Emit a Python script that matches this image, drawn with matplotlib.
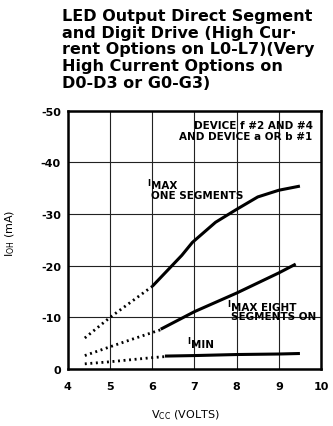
from matplotlib import pyplot as plt

plt.rcParams['font.family'] = ['DejaVu Sans Condensed', 'Liberation Sans Narrow',
                               'DejaVu Sans']
plt.rcParams['font.weight'] = 'bold'

# curve data (Vcc in volts, Ioh in mA)
one_dot_v = [4.4, 5.0, 5.5, 6.0]
one_dot_i = [-6.0, -10.0, -13.0, -16.0]
one_v = [6.0, 6.35, 6.7, 6.95, 7.5, 8.0, 8.5, 9.0, 9.5]
one_i = [-16.0, -19.0, -22.0, -24.5, -28.4, -30.9, -33.3, -34.6, -35.4]

eight_dot_v = [4.4, 5.0, 5.5, 6.2]
eight_dot_i = [-2.6, -4.3, -5.7, -7.6]
eight_v = [6.2, 7.0, 8.0, 9.0, 9.4]
eight_i = [-7.7, -11.1, -14.7, -18.6, -20.3]

min_dot_v = [4.4, 5.0, 6.0, 6.3]
min_dot_i = [-1.0, -1.4, -2.2, -2.4]
min_v = [6.3, 7.0, 8.0, 9.0, 9.5]
min_i = [-2.5, -2.6, -2.8, -2.9, -3.0]

xticks = [4, 5, 6, 7, 8, 9, 10]
yticks = [0, -10, -20, -30, -40, -50]

fig = plt.figure(figsize=(3.33, 4.27), dpi=100)
ax = fig.add_axes([0.204, 0.1335, 0.76, 0.605])

for dv, di, v, i in [(one_dot_v, one_dot_i, one_v, one_i),
                     (eight_dot_v, eight_dot_i, eight_v, eight_i),
                     (min_dot_v, min_dot_i, min_v, min_i)]:
    ax.plot(dv, di, color='black', lw=2, linestyle=(0, (0.7, 1.3)))
    ax.plot(v, i, color='black', lw=2.2, solid_capstyle='butt')

ax.set_xlim(4, 10)
ax.set_ylim(0, -50)
ax.set_xticks(xticks)
ax.set_yticks(yticks)
ax.set_yticklabels(['0', '-10', '-20', '-30', '-40', '-50'])
ax.tick_params(length=0, labelsize=8)
ax.tick_params(axis='y', pad=5)
ax.tick_params(axis='x', pad=9)
ax.grid(True, color='#222222', lw=0.8)
for s in ax.spines.values():
    s.set_linewidth(1.8)

ax.text(9.8, -46.2, 'DEVICE f #2 AND #4\nAND DEVICE a OR b #1',
        ha='right', va='center', fontsize=7.5, linespacing=1.1)

ax.text(5.87, -35.3, 'I', fontsize=6, va='bottom')
ax.text(5.97, -36.5, 'MAX\nONE SEGMENTS', fontsize=7.5, va='top',
        linespacing=0.9)
ax.text(7.77, -11.8, 'I', fontsize=6, va='bottom')
ax.text(7.87, -13.0, 'MAX EIGHT\nSEGMENTS ON', fontsize=7.5, va='top',
        linespacing=0.95)
ax.text(6.82, -4.6, 'I', fontsize=6, va='bottom')
ax.text(6.92, -5.8, 'MIN', fontsize=7.5, va='top')

ax.set_xlabel(r'V$_{\mathregular{CC}}$ (VOLTS)', fontsize=8)
ax.xaxis.set_label_coords(0.465, -0.15)
ax.set_ylabel(r'I$_{\mathregular{OH}}$ (mA)', fontsize=8)
ax.yaxis.set_label_coords(-0.2, 0.53)

fig.text(0.186, 0.979, 'LED Output Direct Segment\nand Digit Drive (High Cur·\n'
         'rent Options on L0-L7)(Very\nHigh Current Options on\nD0-D3 or G0-G3)',
         ha='left', va='top', fontsize=11.5, linespacing=1.14)

fig.savefig('out.png')
